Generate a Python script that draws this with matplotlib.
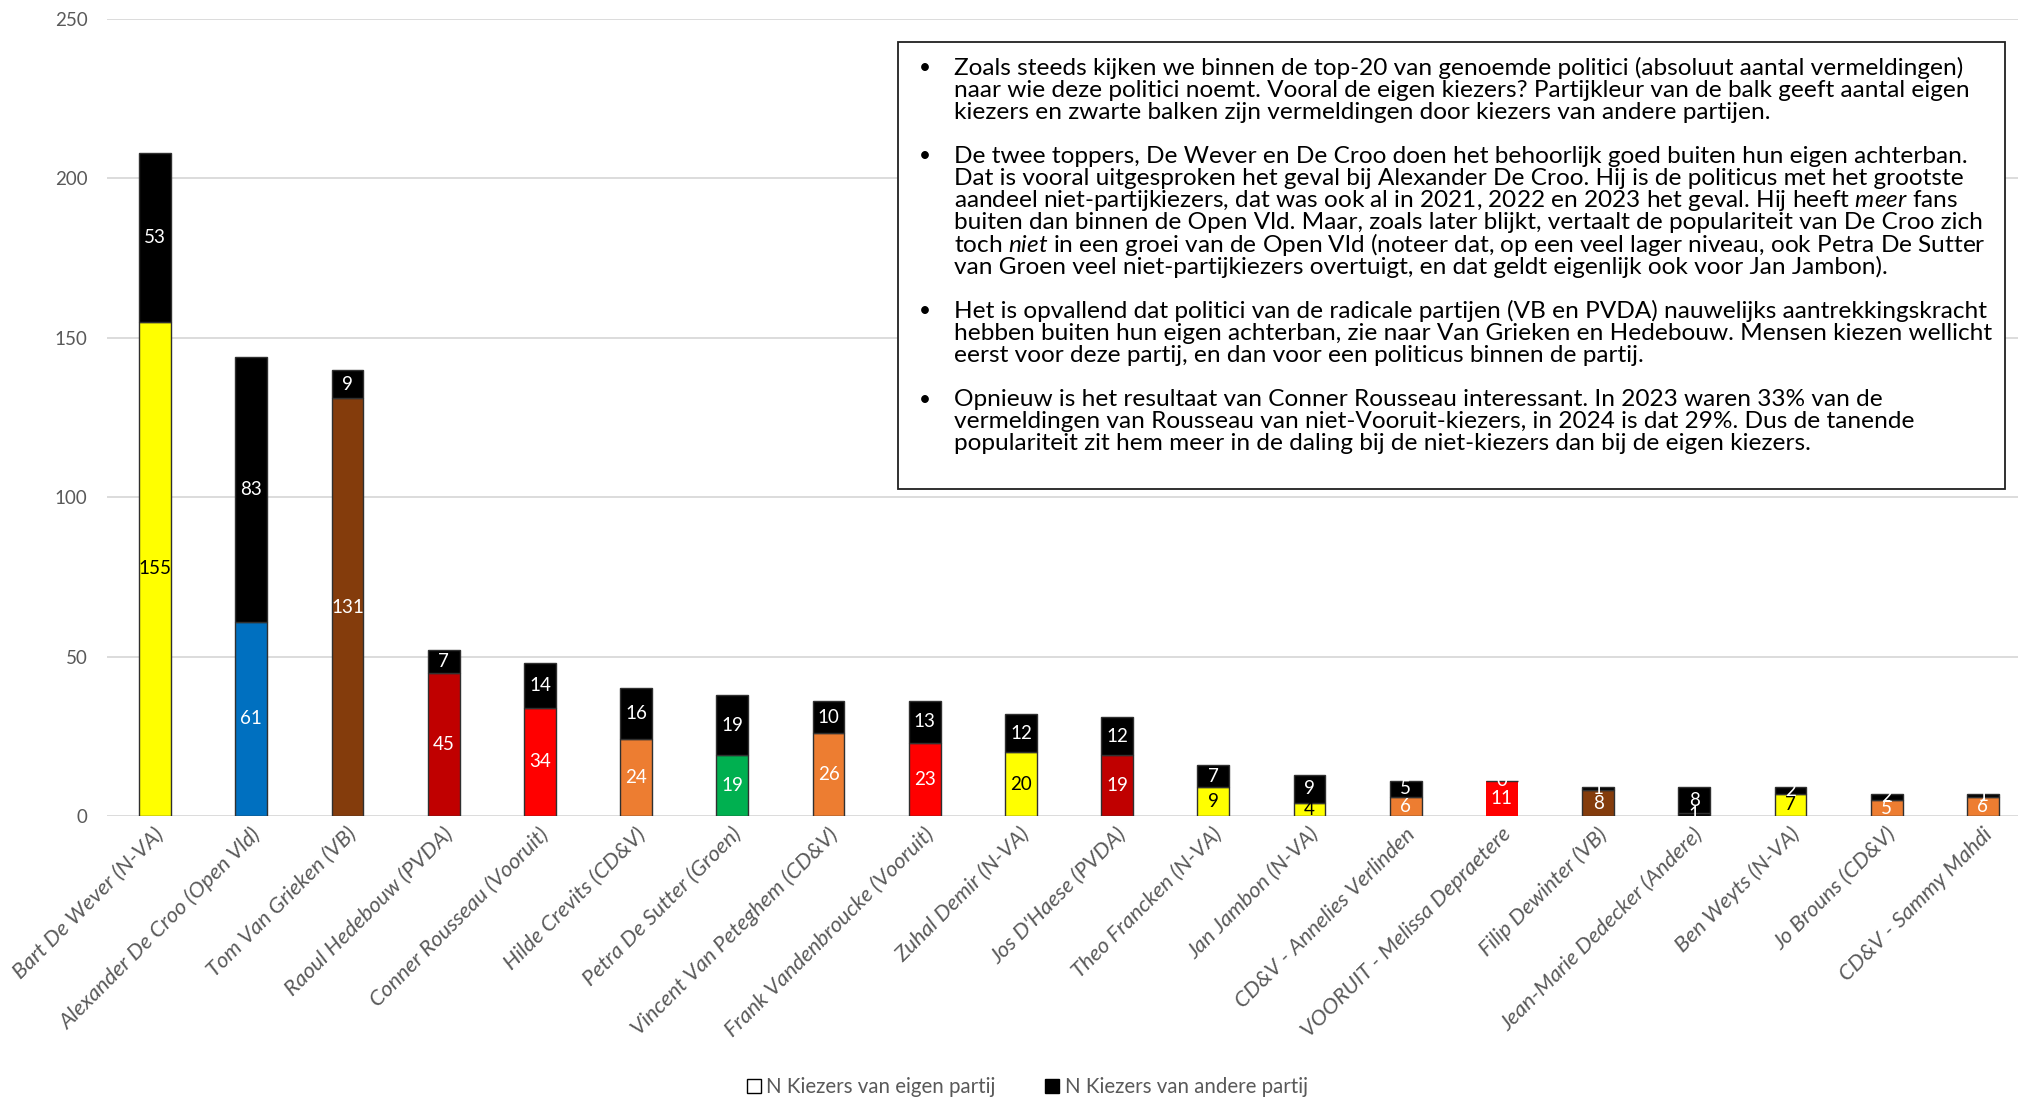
import numpy as np
import matplotlib
matplotlib.use("Agg")
from matplotlib import pyplot as plt
from matplotlib.patches import Rectangle, Patch
from matplotlib.transforms import ScaledTranslation

plt.rcParams['font.family'] = ['Lato', 'DejaVu Sans']
plt.rcParams['mathtext.fontset'] = 'custom'
plt.rcParams['mathtext.rm'] = 'Lato'
plt.rcParams['mathtext.it'] = 'Lato:italic'

# data
politici = ["Bart De Wever (N-VA)", "Alexander De Croo (Open Vld)", "Tom Van Grieken (VB)",
            "Raoul Hedebouw (PVDA)", "Conner Rousseau (Vooruit)", "Hilde Crevits (CD&V)",
            "Petra De Sutter (Groen)", "Vincent Van Peteghem (CD&V)", "Frank Vandenbroucke (Vooruit)",
            "Zuhal Demir (N-VA)", "Jos D'Haese (PVDA)", "Theo Francken (N-VA)", "Jan Jambon (N-VA)",
            "CD&V - Annelies Verlinden", "VOORUIT - Melissa Depraetere", "Filip Dewinter (VB)",
            "Jean-Marie Dedecker (Andere)", "Ben Weyts (N-VA)", "Jo Brouns (CD&V)", "CD&V - Sammy Mahdi"]
eigen = [155, 61, 131, 45, 34, 24, 19, 26, 23, 20, 19, 9, 4, 6, 11, 8, 1, 7, 5, 6]
andere = [53, 83, 9, 7, 14, 16, 19, 10, 13, 12, 12, 7, 9, 5, 0, 1, 8, 2, 2, 1]
partij = ["N-VA", "Open Vld", "VB", "PVDA", "Vooruit", "CD&V", "Groen", "CD&V", "Vooruit",
          "N-VA", "PVDA", "N-VA", "N-VA", "CD&V", "Vooruit", "VB", "Andere", "N-VA", "CD&V", "CD&V"]

kleuren = {"N-VA": "#FFFF00", "Open Vld": "#0070C0", "VB": "#843C0C", "PVDA": "#C00000",
           "Vooruit": "#FF0000", "CD&V": "#ED7D31", "Groen": "#00B050", "Andere": "#000000"}

tekst = [
    ["Zoals steeds kijken we binnen de top-20 van genoemde politici (absoluut aantal vermeldingen)",
     "naar wie deze politici noemt. Vooral de eigen kiezers? Partijkleur van de balk geeft aantal eigen",
     "kiezers en zwarte balken zijn vermeldingen door kiezers van andere partijen."],
    ["De twee toppers, De Wever en De Croo doen het behoorlijk goed buiten hun eigen achterban.",
     "Dat is vooral uitgesproken het geval bij Alexander De Croo. Hij is de politicus met het grootste",
     "aandeel niet-partijkiezers, dat was ook al in 2021, 2022 en 2023 het geval. Hij heeft $\\mathit{meer}$ fans",
     "buiten dan binnen de Open Vld. Maar, zoals later blijkt, vertaalt de populariteit van De Croo zich",
     "toch $\\mathit{niet}$ in een groei van de Open Vld (noteer dat, op een veel lager niveau, ook Petra De Sutter",
     "van Groen veel niet-partijkiezers overtuigt, en dat geldt eigenlijk ook voor Jan Jambon)."],
    ["Het is opvallend dat politici van de radicale partijen (VB en PVDA) nauwelijks aantrekkingskracht",
     "hebben buiten hun eigen achterban, zie naar Van Grieken en Hedebouw. Mensen kiezen wellicht",
     "eerst voor deze partij, en dan voor een politicus binnen de partij."],
    ["Opnieuw is het resultaat van Conner Rousseau interessant. In 2023 waren 33% van de",
     "vermeldingen van Rousseau van niet-Vooruit-kiezers, in 2024 is dat 29%. Dus de tanende",
     "populariteit zit hem meer in de daling bij de niet-kiezers dan bij de eigen kiezers."],
]

W, H = 2018, 1099
fig = plt.figure(figsize=(W / 100, H / 100), dpi=100)
ax = fig.add_axes([107 / W, 1 - 816 / H, 1 - 107 / W, (816 - 19) / H])

x = np.arange(len(politici))
eigen_kleur = [kleuren[p] for p in partij]
randen = ["none" if p == "Vooruit" and a == 0 else "#303030" for p, a in zip(partij, andere)]

b1 = ax.bar(x, eigen, width=0.33, color=eigen_kleur, edgecolor=randen, linewidth=1, zorder=2)
b2 = ax.bar(x, andere, width=0.33, bottom=eigen, color="black", edgecolor="#303030",
            linewidth=1, zorder=2)

lab1 = ax.bar_label(b1, label_type='center', fontsize=13.5)
for t, c in zip(lab1, eigen_kleur):
    t.set_color("black" if c == "#FFFF00" else "white")
lab2 = ax.bar_label(b2, label_type='center', fontsize=13.5, color="white")

ax.set_ylim(0, 250)
ax.set_xlim(-0.5, -0.5 + (W - 107) / 96.2)
ax.set_yticks(np.arange(0, 251, 50))
ax.grid(axis='y', color="#D9D9D9", linewidth=1.3, zorder=0)
ax.set_axisbelow(True)
for s in ax.spines.values():
    s.set_visible(False)
ax.tick_params(axis='both', length=0, colors="#595959")
ax.tick_params(axis='y', labelsize=13.5, pad=14)
ax.set_xticks(x)
ax.set_xticklabels(politici, rotation=45, ha='right', rotation_mode='anchor',
                   fontsize=15.8, style='italic', va='center')
ax.tick_params(axis='x', pad=11)
shift = ScaledTranslation(6 / 100, 0, fig.dpi_scale_trans)
for lbl in ax.get_xticklabels():
    lbl.set_transform(lbl.get_transform() + shift)

# legenda
handles = [Patch(facecolor="white", edgecolor="black", linewidth=1),
           Patch(facecolor="black", edgecolor="black")]
fig.legend(handles, ["N Kiezers van eigen partij", "N Kiezers van andere partij"],
           loc='center', bbox_to_anchor=(0.509, 1 - 1087 / H), ncol=2, frameon=False,
           fontsize=14.8, labelcolor="#595959", handlelength=0.7, handleheight=0.7,
           handletextpad=0.25, columnspacing=2.4)

# tekstvak
fig.patches.append(Rectangle((898 / W, 1 - 489 / H), (2005 - 898) / W, (489 - 42) / H,
                             transform=fig.transFigure, facecolor="white",
                             edgecolor="#202020", linewidth=1.3, zorder=5))
regel = 0
for alinea in tekst:
    for i, lijn in enumerate(alinea):
        y = 1 - (68 + regel * 22.1) / H
        if i == 0:
            fig.text(919 / W, y, "\u2022", fontsize=15, va='center', zorder=6)
        fig.text(954 / W, y, lijn, fontsize=17.6, va='center', zorder=6)
        regel += 1
    regel += 1

fig.savefig("out.png", dpi=100)
